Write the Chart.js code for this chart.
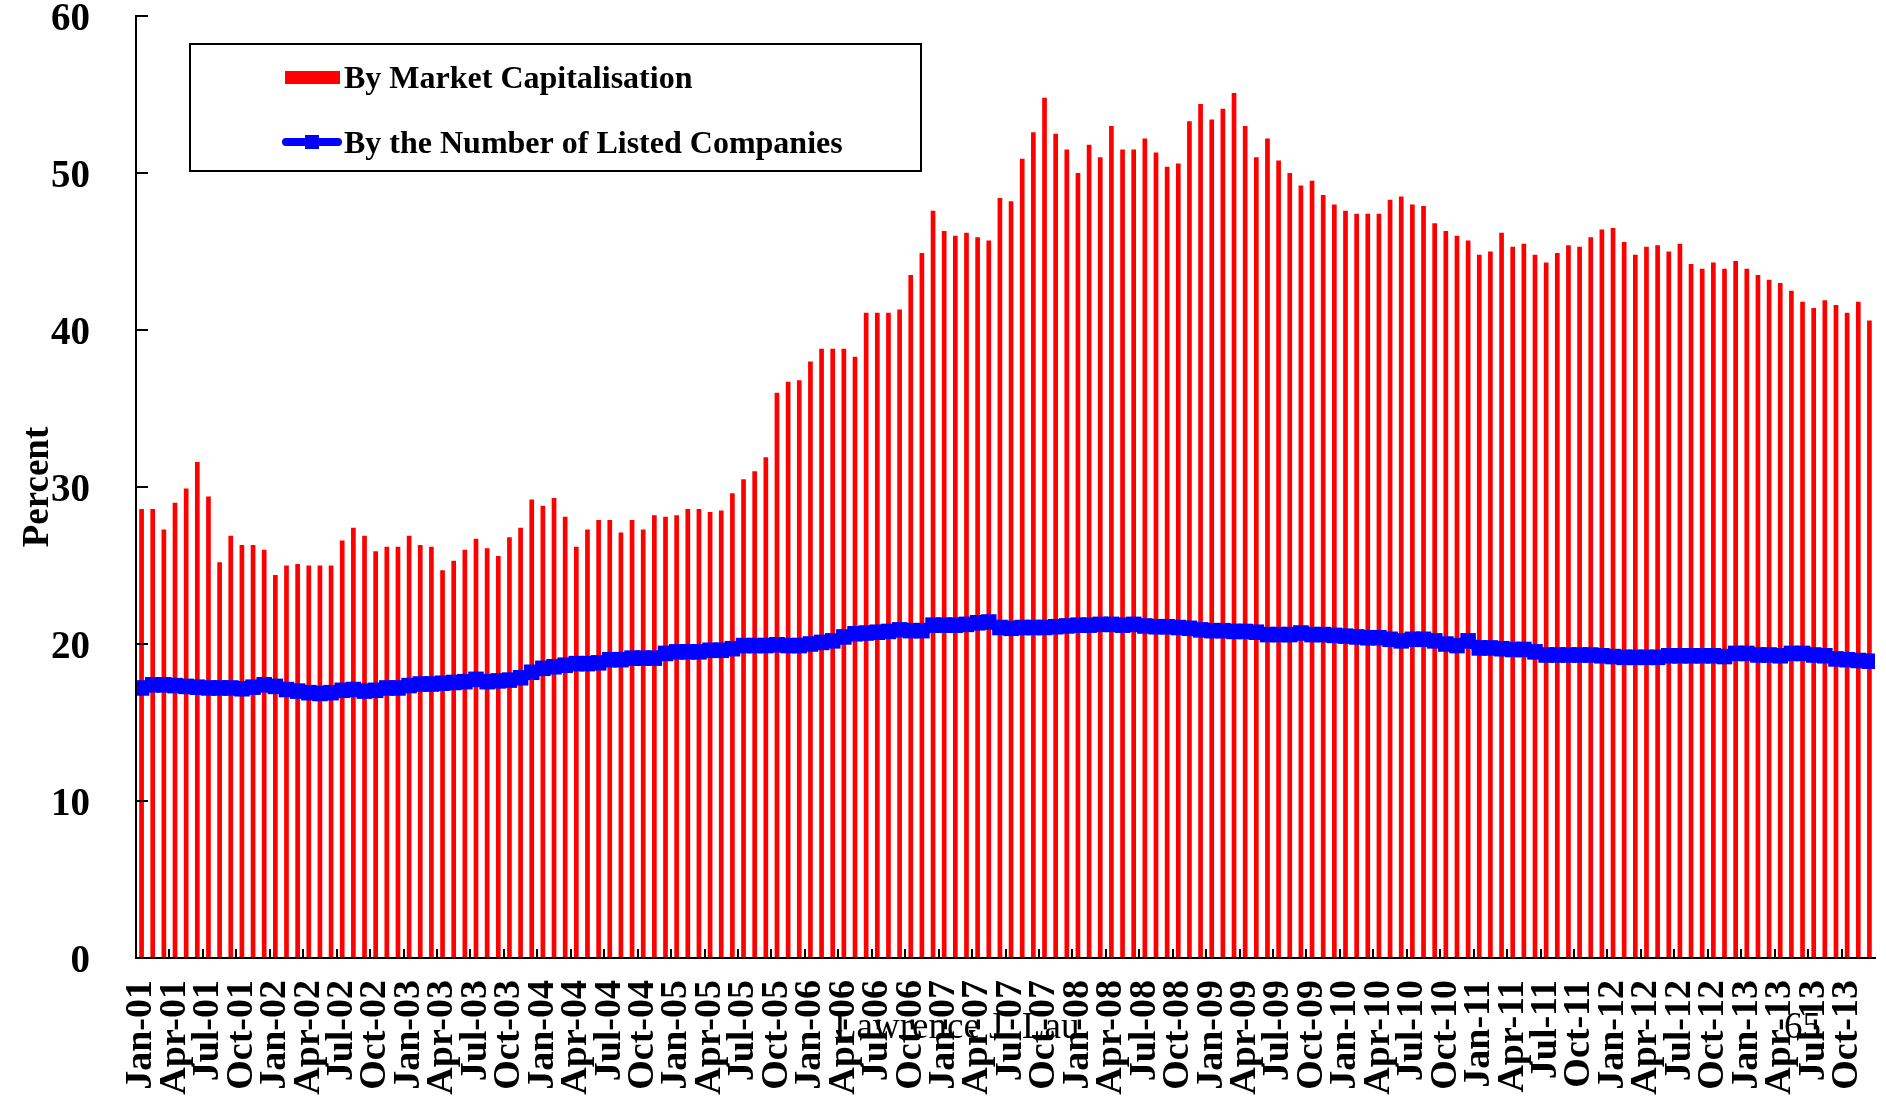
<!DOCTYPE html>
<html>
<head>
<meta charset="utf-8">
<script src="https://cdn.jsdelivr.net/npm/chart.js@4.4.1/dist/chart.umd.min.js"></script>
<style>
  html, body { margin: 0; padding: 0; background: #fff; }
  #wrap { position: relative; width: 1886px; height: 1097px; overflow: hidden; }
  .footer {
    position: absolute;
    font-family: 'Liberation Serif', 'Times New Roman', serif;
    font-size: 37px;
    line-height: 37px;
    color: #000;
    white-space: nowrap;
  }
</style>
</head>
<body>
<div id="wrap">
  <canvas id="chart" width="1886" height="1097"></canvas>
  <div class="footer" style="left:834px; top:1007px;">Lawrence J. Lau</div>
  <div class="footer" style="left:1784px; top:1007px;">65</div>
</div>
<script>
// Monthly categories, Jan-01 .. Dec-13
const months = ['Jan', 'Feb', 'Mar', 'Apr', 'May', 'Jun', 'Jul', 'Aug', 'Sep', 'Oct', 'Nov', 'Dec'];
const years = ['01', '02', '03', '04', '05', '06', '07', '08', '09', '10', '11', '12', '13'];
const labels = [];
years.forEach(y => months.forEach(m => labels.push(m + '-' + y)));

// Share by market capitalisation (percent)
const marketCap = [
  28.6, 28.6, 27.3, 29.0, 29.9, 31.6, 29.4, 25.2, 26.9, 26.3, 26.3, 26.0,
  24.4, 25.0, 25.1, 25.0, 25.0, 25.0, 26.6, 27.4, 26.9, 25.9, 26.2, 26.2,
  26.9, 26.3, 26.2, 24.7, 25.3, 26.0, 26.7, 26.1, 25.6, 26.8, 27.4, 29.2,
  28.8, 29.3, 28.1, 26.2, 27.3, 27.9, 27.9, 27.1, 27.9, 27.3, 28.2, 28.1,
  28.2, 28.6, 28.6, 28.4, 28.5, 29.6, 30.5, 31.0, 31.9, 36.0, 36.7, 36.8,
  38.0, 38.8, 38.8, 38.8, 38.3, 41.1, 41.1, 41.1, 41.3, 43.5, 44.9, 47.6,
  46.3, 46.0, 46.2, 45.9, 45.7, 48.4, 48.2, 50.9, 52.6, 54.8, 52.5, 51.5,
  50.0, 51.8, 51.0, 53.0, 51.5, 51.5, 52.2, 51.3, 50.4, 50.6, 53.3, 54.4,
  53.4, 54.1, 55.1, 53.0, 51.0, 52.2, 50.8, 50.0, 49.2, 49.5, 48.6, 48.0,
  47.6, 47.4, 47.4, 47.4, 48.3, 48.5, 48.0, 47.9, 46.8, 46.3, 46.0, 45.7,
  44.8, 45.0, 46.2, 45.3, 45.5, 44.8, 44.3, 44.9, 45.4, 45.3, 45.9, 46.4,
  46.5, 45.6, 44.8, 45.3, 45.4, 45.0, 45.5, 44.2, 43.9, 44.3, 43.9, 44.4,
  43.9, 43.5, 43.2, 43.0, 42.5, 41.8, 41.4, 41.9, 41.6, 41.1, 41.8, 40.6
];

// Share by number of listed companies (percent)
const listedCompanies = [
  17.2, 17.4, 17.4, 17.35, 17.3, 17.25, 17.2, 17.2, 17.2, 17.15, 17.25, 17.4,
  17.3, 17.1, 17.0, 16.9, 16.85, 16.9, 17.05, 17.1, 17.0, 17.05, 17.2, 17.2,
  17.35, 17.45, 17.45, 17.5, 17.55, 17.6, 17.75, 17.6, 17.65, 17.7, 17.85, 18.2,
  18.45, 18.55, 18.65, 18.75, 18.75, 18.8, 19.0, 19.0, 19.1, 19.1, 19.1, 19.4,
  19.5, 19.5, 19.5, 19.6, 19.6, 19.7, 19.9, 19.9, 19.9, 19.95, 19.9, 19.9,
  20.0, 20.1, 20.2, 20.45, 20.65, 20.7, 20.75, 20.8, 20.9, 20.85, 20.85, 21.2,
  21.2, 21.2, 21.25, 21.35, 21.4, 21.05, 21.0, 21.05, 21.05, 21.05, 21.1, 21.15,
  21.2, 21.2, 21.25, 21.25, 21.2, 21.25, 21.15, 21.1, 21.1, 21.05, 21.0, 20.9,
  20.85, 20.85, 20.8, 20.8, 20.75, 20.6, 20.6, 20.6, 20.7, 20.6, 20.6, 20.55,
  20.5, 20.45, 20.4, 20.4, 20.3, 20.2, 20.3, 20.3, 20.2, 20.0, 19.9, 20.2,
  19.75, 19.75, 19.7, 19.65, 19.65, 19.5, 19.3, 19.3, 19.3, 19.3, 19.3, 19.25,
  19.2, 19.15, 19.15, 19.15, 19.15, 19.25, 19.25, 19.25, 19.25, 19.25, 19.2, 19.4,
  19.4, 19.3, 19.3, 19.25, 19.4, 19.4, 19.3, 19.25, 19.05, 19.0, 18.95, 18.9
];

const SERIF = "'Liberation Serif', 'Times New Roman', serif";

// Inward tick marks plus the boxed legend in the upper left
const frame = {
  id: 'frame',
  afterDraw(chart) {
    const { ctx, chartArea: area, scales: { x, y } } = chart;
    ctx.save();
    ctx.strokeStyle = '#000';
    ctx.lineWidth = 2;
    ctx.beginPath();
    y.ticks.forEach(t => {
      const py = Math.round(y.getPixelForValue(t.value));
      ctx.moveTo(area.left, py);
      ctx.lineTo(area.left + 12, py);
    });
    // one mark per quarter, between categories
    for (let i = 3; i < labels.length; i += 3) {
      const px = Math.round((x.getPixelForValue(i - 1) + x.getPixelForValue(i)) / 2);
      ctx.moveTo(px, area.bottom);
      ctx.lineTo(px, area.bottom - 9);
    }
    ctx.stroke();

    const bars = chart.data.datasets.find(d => d.type === 'bar');
    const line = chart.data.datasets.find(d => d.type === 'line');
    const bx = area.left + 54, by = area.top + 28, bw = 731, bh = 127;
    ctx.fillStyle = '#fff';
    ctx.fillRect(bx, by, bw, bh);
    ctx.strokeRect(bx, by, bw, bh);

    ctx.font = 'bold 32px ' + SERIF;
    ctx.textBaseline = 'middle';
    ctx.textAlign = 'left';

    ctx.fillStyle = bars.backgroundColor;
    ctx.fillRect(bx + 95, by + 27, 55, 13);
    ctx.fillStyle = '#000';
    ctx.fillText(bars.label, bx + 154, by + 36);

    const ly = by + 98;
    ctx.strokeStyle = line.borderColor;
    ctx.lineWidth = 8;
    ctx.lineCap = 'round';
    ctx.beginPath();
    ctx.moveTo(bx + 96, ly);
    ctx.lineTo(bx + 148, ly);
    ctx.stroke();
    ctx.fillStyle = line.borderColor;
    ctx.fillRect(bx + 115, ly - 7, 14, 14);
    ctx.fillStyle = '#000';
    ctx.fillText(line.label, bx + 154, ly + 3);
    ctx.restore();
  }
};

new Chart(document.getElementById('chart'), {
  type: 'bar',
  data: {
    labels: labels,
    datasets: [
      {
        type: 'line',
        label: 'By the Number of Listed Companies',
        data: listedCompanies,
        borderColor: '#0000ff',
        backgroundColor: '#0000ff',
        borderWidth: 11,
        pointStyle: 'rect',
        pointRadius: 11,
        pointBorderWidth: 0,
        pointBackgroundColor: '#0000ff',
        tension: 0,
        clip: 0,
        order: 0
      },
      {
        type: 'bar',
        label: 'By Market Capitalisation',
        data: marketCap,
        backgroundColor: '#ff0000',
        barPercentage: 0.42,
        categoryPercentage: 1,
        order: 1
      }
    ]
  },
  options: {
    responsive: false,
    animation: false,
    devicePixelRatio: 1,
    layout: { padding: { top: 16, right: 7, left: 0, bottom: 0 } },
    plugins: {
      legend: { display: false },
      tooltip: { enabled: false }
    },
    scales: {
      x: {
        offset: true,
        grid: { display: false, drawTicks: false },
        border: { color: '#000', width: 2, z: 1 },
        ticks: {
          autoSkip: false,
          minRotation: 90,
          maxRotation: 90,
          padding: 22,
          color: '#000',
          font: { family: SERIF, size: 38, weight: 'bold' },
          callback: (v, i) => (i % 3 === 0 ? labels[i] : null)
        },
        afterFit: s => { s.height = 139; s.paddingLeft = 0; s.paddingRight = 0; }
      },
      y: {
        min: 0,
        max: 60,
        grid: { display: false, drawTicks: false },
        border: { color: '#000', width: 2, z: 1 },
        ticks: {
          stepSize: 10,
          padding: 46,
          labelOffset: 4,
          color: '#000',
          font: { family: SERIF, size: 39, weight: 'bold' }
        },
        title: {
          display: true,
          text: 'Percent',
          color: '#000',
          font: { family: SERIF, size: 37, weight: 'bold' },
          padding: { top: 16, bottom: 0 }
        },
        afterFit: s => { s.width = 136; s.paddingTop = 0; s.paddingBottom = 0; }
      }
    }
  },
  plugins: [frame]
});
</script>
</body>
</html>
